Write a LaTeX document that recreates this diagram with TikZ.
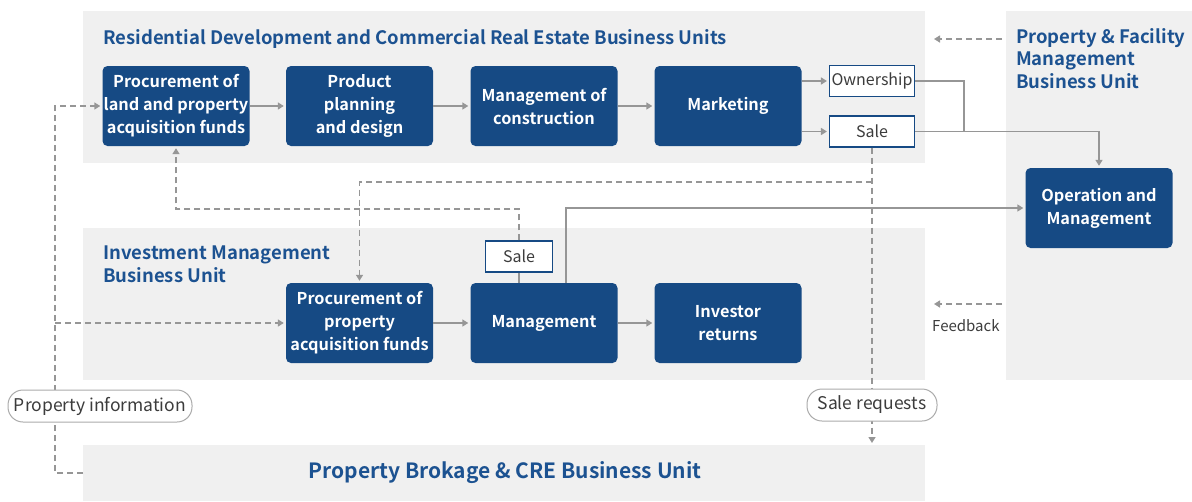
\documentclass[tikz,border=0pt]{standalone}
\usepackage{fontspec}
\setmainfont{Noto Sans CJK KR}[BoldFont={Noto Sans CJK KR Bold}]
\usetikzlibrary{arrows.meta,calc}
\definecolor{boxblue}{RGB}{22,74,132}
\definecolor{titleblue}{RGB}{28,82,145}
\definecolor{panelgray}{RGB}{240,240,240}
\definecolor{linegray}{RGB}{150,150,150}
\definecolor{txtgray}{RGB}{60,60,60}
\begin{document}
\begin{tikzpicture}[x=1pt,y=-1pt,
  panelbox/.style={fill=panelgray,draw=none,inner sep=0pt,anchor=north west},
  bluebox/.style={fill=boxblue,rounded corners=5pt,text=white,font=\bfseries\fontsize{16.3}{23}\selectfont,align=center,inner sep=0pt,minimum width=147pt,minimum height=80pt},
  tagbox/.style={fill=white,draw=boxblue,line width=1.1pt,font=\fontsize{16}{18}\selectfont,text=txtgray,minimum height=31pt,inner sep=0pt},
  pill/.style={fill=white,draw=linegray!80,line width=1pt,rounded corners=15pt,font=\fontsize{17.5}{19}\selectfont,text=txtgray,minimum height=32pt,inner sep=0pt},
  unittitle/.style={font=\bfseries\fontsize{18.5}{22.5}\selectfont,text=titleblue,align=left,inner sep=0pt},
  conn/.style={draw=linegray,line width=1.5pt},
  flow/.style={conn,-{Triangle[width=7pt,length=6pt]},shorten >=2pt},
  dconn/.style={conn,dash pattern=on 6pt off 4pt},
  dflow/.style={dconn,-{Triangle[width=7pt,length=6pt]},shorten >=2pt}]
\useasboundingbox (0,0) rectangle (1192,501);
% panels
\node[panelbox,minimum width=842pt,minimum height=152pt] (toppanel) at (83,11) {};
\node[panelbox,minimum width=186pt,minimum height=369pt] (rightpanel) at (1006,11) {};
\node[panelbox,minimum width=842pt,minimum height=152pt] (midpanel) at (83,228) {};
\node[panelbox,minimum width=842pt,minimum height=56pt] (botpanel) at (83,445) {};
% titles
\node[unittitle,anchor=west] (toptitle) at (103,39) {Residential Development and Commercial Real Estate Business Units};
\node[unittitle,anchor=north west] (righttitle) at (1016,28) {Property \& Facility\\Management\\Business Unit};
\node[unittitle,anchor=north west] (midtitle) at (103,246) {Investment Management\\Business Unit};
\node[font=\bfseries\fontsize{21}{24}\selectfont,text=titleblue,inner sep=0pt] (bottitle) at (505,473) {Property Brokage \& CRE Business Unit};
% blue boxes
\node[bluebox] (p1) at (176,106) {Procurement of\\land and property\\acquisition funds};
\node[bluebox] (p2) at (359.5,106) {Product\\planning\\and design};
\node[bluebox] (p3) at (544,106) {Management of\\construction};
\node[bluebox] (mk) at (728,106) {Marketing};
\node[bluebox] (op) at (1099,208) {Operation and\\Management};
\node[bluebox] (ip) at (359.5,323) {Procurement of\\property\\acquisition funds};
\node[bluebox] (mg) at (544,323) {Management};
\node[bluebox] (ir) at (728,323) {Investor\\returns};
% tag boxes
\node[tagbox,minimum width=85pt] (own) at (872,81) {Ownership};
\node[tagbox,minimum width=85pt] (sale1) at (872,131.5) {Sale};
\node[tagbox,minimum width=67pt] (sale2) at (519,256.5) {Sale};
% helper coordinates
\coordinate (jn) at (964,0);
\coordinate (lx) at (55,0);
\coordinate (h1) at (0,182);
\coordinate (h2) at (0,209);
\coordinate (rs1) at (1002,39);
\coordinate (re1) at (932,39);
\coordinate (rs2) at (1002,304);
\coordinate (re2) at (932,304);
% solid flows
\draw[flow] (p1) -- (p2);
\draw[flow] (p2) -- (p3);
\draw[flow] (p3) -- (mk);
\draw[flow] (mk.east |- own.west) -- (own.west);
\draw[flow] (mk.east |- sale1.west) -- (sale1.west);
\draw[conn] (own.east) -| (jn |- sale1.east);
\draw[flow] (sale1.east) -| (op.north);
\draw[flow] (ip) -- (mg);
\draw[flow] (mg) -- (ir);
\draw[conn] (mg.north -| sale2.south) -- (sale2.south);
\draw[flow] ($(mg.north)+(22,0)$) |- (op.west);
% dashed flows
\draw[dflow] (sale1.south) -- (botpanel.north -| sale1.south);
\draw[dflow] (sale1.south |- h1) -| (ip.north);
\draw[dflow] (sale2.north) -- (sale2.north |- h2) -| (p1.south);
\draw[dflow] (botpanel.west |- bottitle) -| (lx |- p1.west) -- (p1.west);
\draw[dflow] (lx |- ip.west) -- (ip.west);
\draw[dflow] (rs1) -- (re1);
\draw[dflow] (rs2) -- (re2);
\node[font=\fontsize{15}{18}\selectfont,text=txtgray,anchor=west,inner sep=0pt] (fb) at (932,326) {Feedback};
% pills
\node[pill,minimum width=184pt] (propinfo) at (100,406) {Property information};
\node[pill,minimum width=130pt] (salereq) at (872,405) {Sale requests};
\end{tikzpicture}
\end{document}
